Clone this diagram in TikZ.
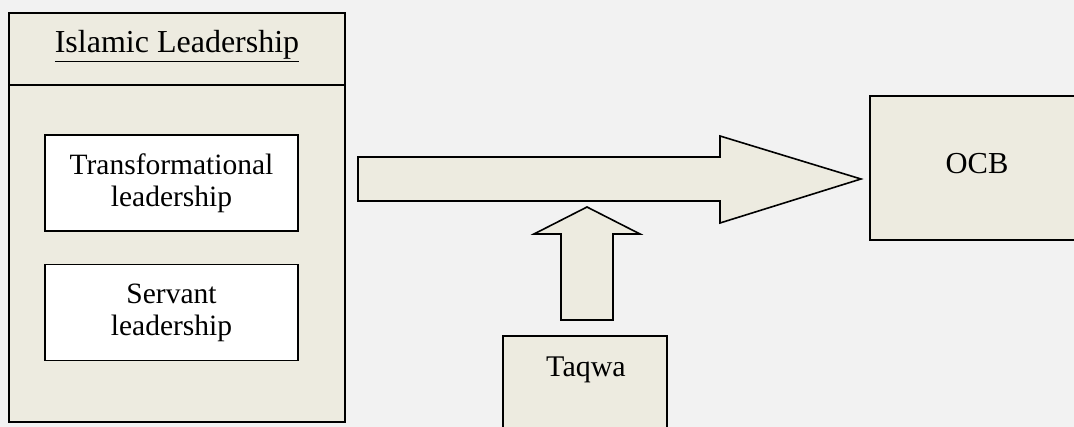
\documentclass[tikz,border=0pt]{standalone}
\usepackage{fontspec}
\setmainfont{Liberation Serif}
\usetikzlibrary{positioning}
\definecolor{bgc}{HTML}{F2F2F2}
\definecolor{boxc}{HTML}{EDEBE0}
\begin{document}
\begin{tikzpicture}[x=1pt,y=-1pt,
  every node/.style={font=\fontsize{29.5}{32}\selectfont, inner sep=0pt, outer sep=0pt},
  panel/.style={draw=black, line width=1.8pt, fill=boxc, rectangle, anchor=north west},
  inbox/.style={draw=black, line width=1.8pt, fill=white, rectangle, align=center, minimum width=253pt, minimum height=96pt},
  blockarrow/.style={draw=black, line width=1.6pt, fill=boxc, line join=miter}]
\fill[bgc] (0,0) rectangle (1074,427);
\useasboundingbox (0,0) rectangle (1074,427);
\clip (0,0) rectangle (1074,427);
% left panel
\node[panel, minimum width=336pt, minimum height=72pt] (head) at (9,13) {};
\node[panel, minimum width=336pt, minimum height=337pt] (body) at (9,85) {};
\node[anchor=base, font=\fontsize{32}{34}\selectfont] (title) at (177,53) {\underline{Islamic Leadership}};
\node[inbox] (trans) at (171.5,183) {Transformational\\leadership};
\node[inbox] (serv) at (171.5,312.5) {Servant\\leadership};
% OCB
\node[panel, minimum width=230pt, minimum height=144pt] (ocb) at (870,96) {};
\node[anchor=base, font=\fontsize{30.5}{32}\selectfont] (ocbt) at (977,174) {OCB};
% Taqwa
\node[panel, minimum width=164pt, minimum height=110pt] (taqwa) at (503,336) {};
\node[anchor=base, font=\fontsize{30}{32}\selectfont] (taqwat) at (586,377) {Taqwa};
% big arrow
\draw[blockarrow] (358,157) -- (720,157) -- (720,136) -- (861,179) -- (720,223) -- (720,201) -- (358,201) -- cycle;
% up arrow
\draw[blockarrow] (561,320) -- (561,234) -- (534,234) -- (587,207) -- (640,234) -- (613,234) -- (613,320) -- cycle;
\end{tikzpicture}
\end{document}
